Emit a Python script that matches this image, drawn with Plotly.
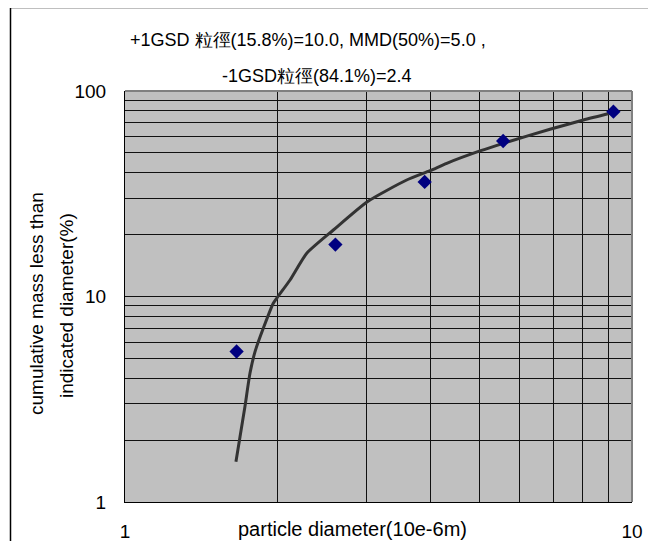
import plotly.graph_objects as go

# ---- data ----
measured_diameter = [1.66, 2.60, 3.90, 5.57, 9.19]
measured_cum_mass = [5.4, 17.9, 36.1, 57.1, 79.3]

fit_diameter = [1.655, 1.686, 1.724, 1.764, 1.805, 1.874, 1.961, 2.003, 2.116, 2.283,
                2.576, 3.006, 3.594, 3.996, 4.311, 5.030, 5.575, 6.89, 8.017, 9.05]
fit_cum_mass = [1.57, 2.08, 2.91, 4.23, 5.39, 7.00, 9.27, 10.0, 12.03, 16.23,
                21.07, 28.93, 36.89, 40.95, 44.48, 51.23, 55.65, 65.12, 72.25, 77.9]

x_tick_values = [1, 2, 3, 4, 5, 6, 7, 8, 9, 10]
x_tick_labels = ["1", "", "", "", "", "", "", "", "", "10"]
y_tick_values = [1, 2, 3, 4, 5, 6, 7, 8, 9, 10, 20, 30, 40, 50, 60, 70, 80, 90, 100]
y_tick_labels = ["1", "", "", "", "", "", "", "", "", "10", "", "", "", "", "", "", "", "", "100"]

title_line1 = "+1GSD 粒徑(15.8%)=10.0, MMD(50%)=5.0 ,"
title_line2 = "-1GSD粒徑(84.1%)=2.4"
x_title = "particle diameter(10e-6m)"
y_title_line1 = "cumulative mass less than"
y_title_line2 = "indicated diameter(%)"

FONT = "Liberation Sans, Arial, sans-serif"
OFF = 8  # page body margin in the browser
W, H = 656 - OFF, 549 - 2 * OFF
# plot area on screen: x 125..632, y 91..502
L, T = 125 - OFF, 91 - OFF
R = W - (632 - OFF)
B = H - (502 - OFF)
PW, PH = W - L - R, H - T - B


def px_x(p):
    return (p - OFF - L) / PW


def px_y(p):
    return (H - B - (p - OFF)) / PH


fig = go.Figure()
fig.add_trace(go.Scatter(
    x=fit_diameter, y=fit_cum_mass, mode="lines",
    line=dict(color="#333333", width=3, shape="spline", smoothing=0.6),
    hoverinfo="skip", showlegend=False))
fig.add_trace(go.Scatter(
    x=measured_diameter, y=measured_cum_mass, mode="markers",
    marker=dict(symbol="diamond", size=11, color="#000080"),
    showlegend=False))

axis_common = dict(
    showgrid=True, gridcolor="#111111", gridwidth=1,
    showline=True, linecolor="#000000", linewidth=1,
    ticks="", zeroline=False, automargin=False,
    tickfont=dict(family=FONT, size=19, color="#000000"),
)
fig.update_xaxes(type="log", range=[0, 1], tickmode="array",
                 tickvals=x_tick_values, ticktext=x_tick_labels,
                 ticklabelstandoff=12, **axis_common)
fig.update_yaxes(type="log", range=[0, 2], tickmode="array",
                 tickvals=y_tick_values, ticktext=y_tick_labels,
                 ticklabelstandoff=14, **axis_common)

annotations = [
    dict(text=title_line1, x=px_x(128), y=px_y(40), xanchor="left", yanchor="middle",
         font=dict(family=FONT, size=18, color="#000000")),
    dict(text=title_line2, x=px_x(220), y=px_y(76), xanchor="left", yanchor="middle",
         font=dict(family=FONT, size=18, color="#000000")),
    dict(text=x_title, x=px_x(352), y=px_y(529), xanchor="center", yanchor="middle",
         font=dict(family=FONT, size=20, color="#000000")),
    dict(text=y_title_line1, x=px_x(36), y=px_y(304), xanchor="center", yanchor="middle",
         textangle=-90, font=dict(family=FONT, size=19, color="#000000")),
    dict(text=y_title_line2, x=px_x(66), y=px_y(306), xanchor="center", yanchor="middle",
         textangle=-90, font=dict(family=FONT, size=19, color="#000000")),
]
for a in annotations:
    a.update(xref="paper", yref="paper", showarrow=False)

shapes = [
    # gray top and right plot border
    dict(type="line", xref="paper", yref="paper", x0=0, x1=1, y0=1, y1=1,
         line=dict(color="#808080", width=2), layer="above"),
    dict(type="line", xref="paper", yref="paper", x0=1, x1=1, y0=0, y1=1,
         line=dict(color="#808080", width=2), layer="above"),
    # outer chart frame (cropped)
    dict(type="line", xref="paper", yref="paper", x0=px_x(10.5), x1=px_x(660),
         y0=px_y(7.5), y1=px_y(7.5), line=dict(color="#000000", width=1.5)),
    dict(type="line", xref="paper", yref="paper", x0=px_x(10.5), x1=px_x(10.5),
         y0=px_y(7.5), y1=px_y(560), line=dict(color="#000000", width=1.5)),
]
# faint watermark blocks at the top
for x0, x1 in [(253, 270), (278, 293), (300, 317), (328, 343), (352, 367), (375, 388), (400, 413)]:
    shapes.append(dict(type="rect", xref="paper", yref="paper",
                       x0=px_x(x0), x1=px_x(x1), y0=px_y(0), y1=px_y(6.5),
                       line=dict(width=0), fillcolor="#d3d7ec"))

fig.update_layout(
    width=W, height=H,
    margin=dict(l=L, r=R, t=T, b=B, autoexpand=False),
    paper_bgcolor="#ffffff", plot_bgcolor="#c0c0c0",
    annotations=annotations, shapes=shapes,
    showlegend=False,
)

fig.write_html("out.html")
